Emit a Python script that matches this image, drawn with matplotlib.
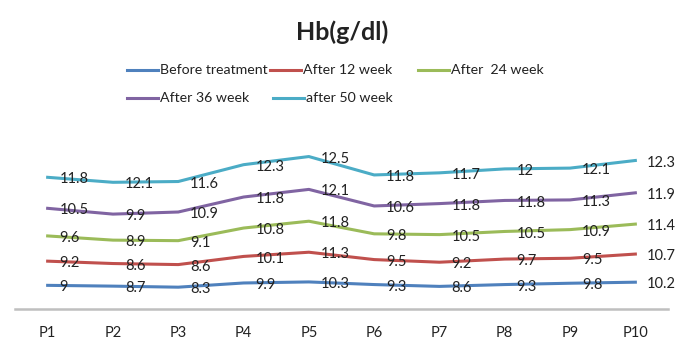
import matplotlib
matplotlib.use("Agg")
import matplotlib.pyplot as plt
import numpy as np
from matplotlib.lines import Line2D

plt.rcParams['font.family'] = ['Lato', 'DejaVu Sans']

categories = ["P1", "P2", "P3", "P4", "P5", "P6", "P7", "P8", "P9", "P10"]
before = [9, 8.7, 8.3, 9.9, 10.3, 9.3, 8.6, 9.3, 9.8, 10.2]
week12 = [9.2, 8.6, 8.6, 10.1, 11.3, 9.5, 9.2, 9.7, 9.5, 10.7]
week24 = [9.6, 8.9, 9.1, 10.8, 11.8, 9.8, 10.5, 10.5, 10.9, 11.4]
week36 = [10.5, 9.9, 10.9, 11.8, 12.1, 10.6, 11.8, 11.8, 11.3, 11.9]
week50 = [11.8, 12.1, 11.6, 12.3, 12.5, 11.8, 11.7, 12, 12.1, 12.3]
series_names = ["Before treatment", "After 12 week", "After  24 week", "After 36 week", "after 50 week"]
colors = ["#4F81BD", "#C0504D", "#9BBB59", "#8064A2", "#4BACC6"]

series = [before, week12, week24, week36, week50]

fig = plt.figure(figsize=(6.85, 3.47), dpi=100)
ax = fig.add_axes([15/685, 38/347, 653/685, 184/347])

x = np.arange(len(categories))
cum = np.zeros(len(categories))
for vals, col in zip(series, colors):
    vals = np.array(vals, dtype=float)
    cum = cum + vals
    ax.plot(x, cum, color=col, lw=2.2, solid_joinstyle='round')
    for xi, yi, v in zip(x, cum, vals):
        ax.annotate(f"{v:g}", (xi, yi), xytext=(8.5, -1.5), textcoords='offset points',
                    ha='left', va='center', fontsize=10.5, color='#222222')

ax.set_xlim(-0.5, len(categories) - 0.5)
ax.set_ylim(0, 70)
ax.set_yticks([])
ax.set_xticks(x)
ax.set_xticklabels(categories, fontsize=10.5, color='#222222')
ax.tick_params(axis='x', length=0, pad=12)
for s in ['top', 'right', 'left']:
    ax.spines[s].set_visible(False)
ax.spines['bottom'].set_color('#BFBFBF')
ax.spines['bottom'].set_linewidth(1.8)

fig.text(342/685, 1 - 32/347, "Hb(g/dl)", ha='center', va='center', fontsize=18, fontweight='bold', color='#222222')

# legend
leg_pos = [(127, 70), (270, 70), (418, 70), (127, 98), (273, 98)]
for (lx, ly), name, col in zip(leg_pos, series_names, colors):
    fig.add_artist(Line2D([lx/685, (lx+31)/685], [1-ly/347, 1-ly/347], color=col, lw=2.2, transform=fig.transFigure))
    fig.text((lx+33)/685, 1-ly/347, name, ha='left', va='center', fontsize=10.2, color='#222222')

fig.savefig("out.png", dpi=100)
